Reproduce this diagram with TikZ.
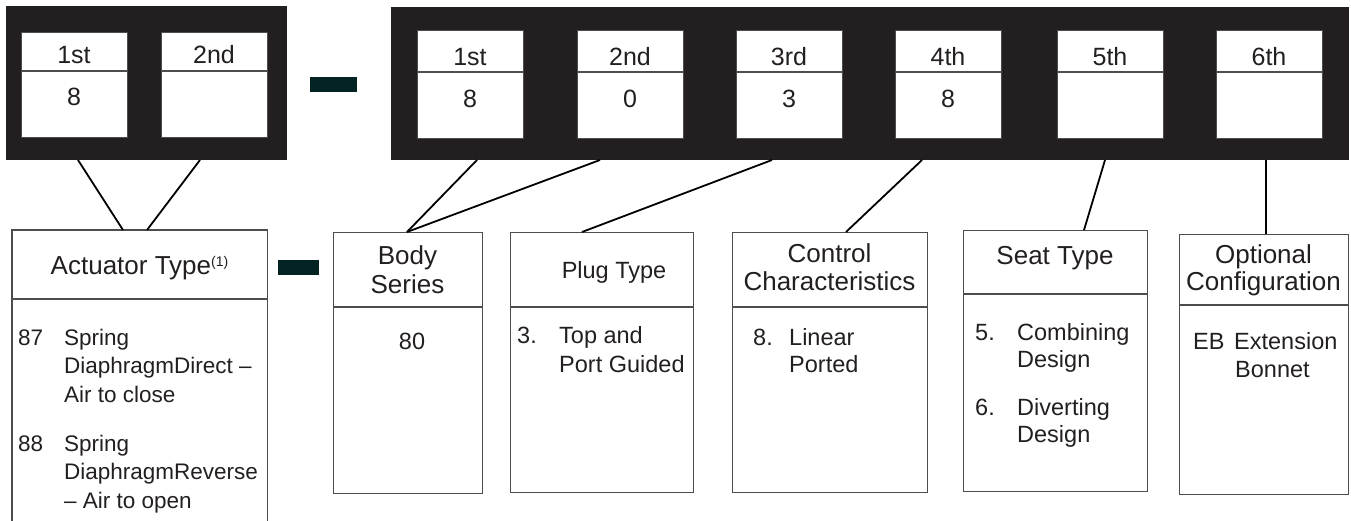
\documentclass[tikz,border=0pt]{standalone}
\usepackage{fontspec}
\setmainfont{Liberation Sans}
\definecolor{frameblack}{HTML}{231F20}
\definecolor{dashcol}{HTML}{022322}
\definecolor{boxline}{HTML}{4D4D4D}
\definecolor{txt}{HTML}{231F20}
\begin{document}
\begin{tikzpicture}[x=1pt,y=-1pt,
  frame/.style={fill=frameblack, draw=none, anchor=north west, inner sep=0pt},
  cell/.style={fill=white, draw=boxline, line width=1pt, anchor=north west, inner sep=0pt, minimum width=106pt},
  divline/.style={draw=boxline, line width=1.2pt},
  dashbar/.style={fill=dashcol, draw=none, anchor=north west, inner sep=0pt},
  lbox/.style={draw=boxline, line width=1.3pt, anchor=north west, inner sep=0pt},
  conn/.style={draw=black, line width=1.8pt},
  toptext/.style={anchor=base, inner sep=0pt, text=txt, font=\fontsize{25}{30}\selectfont},
  hdr/.style={anchor=base, inner sep=0pt, text=txt, font=\fontsize{26}{30}\selectfont},
  hdrs/.style={anchor=base, inner sep=0pt, text=txt, font=\fontsize{23.5}{28}\selectfont},
  item/.style={anchor=base west, inner sep=0pt, text=txt, font=\fontsize{23.5}{28}\selectfont},
  aitem/.style={anchor=base west, inner sep=0pt, text=txt, font=\fontsize{22.5}{28}\selectfont}
]
\useasboundingbox (0,0) rectangle (1351,521);
% black frames
\node[frame, minimum width=281pt, minimum height=154pt] (fL) at (6,6) {};
\node[frame, minimum width=958pt, minimum height=153pt] (fR) at (391,7) {};
% left cells
\foreach \n/\x/\h/\v in {cL1/21/1st/8, cL2/161/2nd/{}} {
  \node[cell, minimum height=105pt] (\n) at (\x,32) {};
  \draw[divline] (\x,71) -- ++(106,0);
  \node[toptext] (\n h) at (\x+53,64) {\h};
  \node[toptext] (\n v) at (\x+53,106) {\v};
}
% right cells
\foreach \n/\x/\h/\v in {cR1/417/1st/8, cR2/577/2nd/0, cR3/736/3rd/3, cR4/895/4th/8, cR5/1057/5th/{}, cR6/1216/6th/{}} {
  \node[cell, minimum height=108pt] (\n) at (\x,30) {};
  \draw[divline] (\x,72) -- ++(106,0);
  \node[toptext] (\n h) at (\x+53,66) {\h};
  \node[toptext] (\n v) at (\x+53,108) {\v};
}
% dashes
\node[dashbar, minimum width=47pt, minimum height=15pt] (d1) at (310,77) {};
\node[dashbar, minimum width=41pt, minimum height=15pt] (d2) at (278,260) {};
% lower boxes
\node[anchor=north west, inner sep=0pt, minimum width=255pt, minimum height=291pt] (act) at (12,230) {};
\draw[lbox] (act.south west) |- (act.north east) -- (act.south east);
\draw[lbox] (12,299) -- (267,299);
\node[lbox, minimum width=149pt, minimum height=261pt] (body) at (333,232) {};
\draw[lbox] (333,307) -- (482,307);
\node[lbox, minimum width=183pt, minimum height=260pt] (plug) at (510,232) {};
\draw[lbox] (510,307) -- (693,307);
\node[lbox, minimum width=195pt, minimum height=260pt] (ctrl) at (732,232) {};
\draw[lbox] (732,307) -- (927,307);
\node[lbox, minimum width=184pt, minimum height=261pt] (seat) at (963,230) {};
\draw[lbox] (963,294) -- (1147,294);
\node[lbox, minimum width=169pt, minimum height=260pt] (opt) at (1179,234) {};
\draw[lbox] (1179,305) -- (1348,305);
% connector end points
\coordinate (a1) at (78,160);
\coordinate (a2) at (200,160);
\coordinate (b1) at (477,160);
\coordinate (b2) at (600,160);
\coordinate (b3) at (772,160);
\coordinate (b4) at (922,160);
\coordinate (b5) at (1105,160);
\coordinate (b6) at (1266,160);
\coordinate (t1) at (123,230);
\coordinate (t2) at (147,230);
\coordinate (t3) at (407,232);
\coordinate (t4) at (582,232);
\coordinate (t5) at (846,232);
\coordinate (t6) at (1084,230);
\coordinate (t7) at (1266,234);
\draw[conn] (a1) -- (t1);
\draw[conn] (a2) -- (t2);
\draw[conn] (b1) -- (t3);
\draw[conn] (b2) -- (t3);
\draw[conn] (b3) -- (t4);
\draw[conn] (b4) -- (t5);
\draw[conn] (b5) -- (t6);
\draw[conn] (b6) -- (t7);
% actuator text
\node[hdr] (acth) at (139.5,275) {Actuator Type\raisebox{9pt}{\fontsize{14}{14}\selectfont(1)}};
\node[aitem] (a87) at (18,345) {87};
\node[aitem] (a87a) at (64,345) {Spring};
\node[aitem] (a87b) at (64,373) {DiaphragmDirect –};
\node[aitem] (a87c) at (64,402) {Air to close};
\node[aitem] (a88) at (18,451) {88};
\node[aitem] (a88a) at (64,451) {Spring};
\node[aitem] (a88b) at (64,479) {DiaphragmReverse};
\node[aitem] (a88c) at (64,508) {– Air to open};
% body series
\node[hdr] (bh1) at (407.5,265) {Body};
\node[hdr] (bh2) at (407.5,294) {Series};
\node[hdrs] (b80) at (412,349) {80};
% plug
\node[hdrs] (ph) at (614,278) {Plug Type};
\node[item] (p3) at (517,343) {3.};
\node[item] (p3a) at (559,343) {Top and};
\node[item] (p3b) at (559,372) {Port Guided};
% control
\node[hdr] (ch1) at (829.5,262) {Control};
\node[hdr] (ch2) at (829.5,290) {Characteristics};
\node[item] (c8) at (753,345) {8.};
\node[item] (c8a) at (789,345) {Linear};
\node[item] (c8b) at (789,372) {Ported};
% seat
\node[hdr] (sh) at (1055,265) {Seat Type};
\node[item] (s5) at (975,340) {5.};
\node[item] (s5a) at (1017,340) {Combining};
\node[item] (s5b) at (1017,367) {Design};
\node[item] (s6) at (975,415) {6.};
\node[item] (s6a) at (1017,415) {Diverting};
\node[item] (s6b) at (1017,442) {Design};
% optional
\node[hdr] (oh1) at (1263.5,263) {Optional};
\node[hdr] (oh2) at (1263.5,290) {Configuration};
\node[item] (oeb) at (1193,349) {EB};
\node[item] (oeba) at (1234,349) {Extension};
\node[item] (oebb) at (1235,377) {Bonnet};
\end{tikzpicture}
\end{document}
